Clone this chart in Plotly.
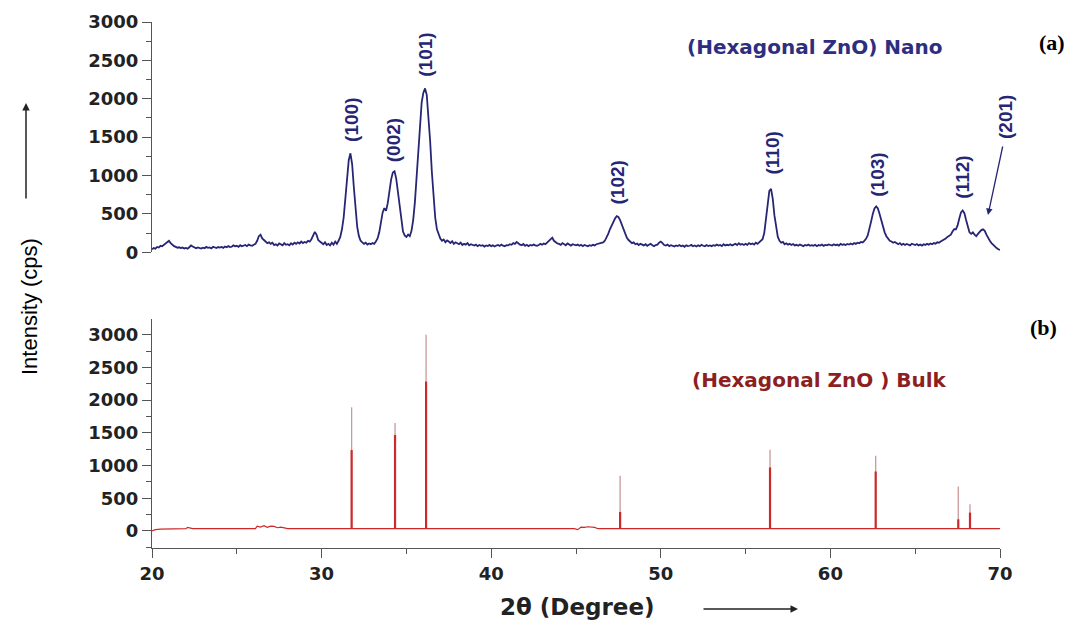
import numpy as np
import plotly.graph_objects as go

# ---------------- data ----------------
# Nano ZnO pattern, intensity read every 0.1 deg from 20.0 to 70.0
nano_start = 20.0
nano_step = 0.1
nano_y = [
    40, 55, 48, 70, 62, 85, 78, 95, 110, 130,            # 20
    150, 120, 95, 80, 70, 60, 65, 55, 62, 50,            # 21
    58, 48, 66, 90, 75, 60, 52, 64, 55, 48,              # 22
    60, 52, 70, 58, 64, 50, 72, 60, 55, 68,              # 23
    62, 70, 58, 75, 66, 80, 68, 72, 90, 78,              # 24
    85, 70, 92, 78, 88, 95, 80, 100, 90, 85,             # 25
    98, 110, 150, 210, 230, 180, 160, 140, 120, 130,     # 26
    110, 125, 95, 105, 88, 115, 100, 92, 120, 98,        # 27
    105, 90, 118, 100, 125, 110, 130, 115, 140, 120,     # 28
    135, 125, 150, 140, 170, 210, 265, 230, 160, 140,    # 29
    120, 105, 130, 95, 110, 90, 125, 100, 140, 110,      # 30
    150, 200, 300, 450, 700, 980, 1200, 1290, 1150, 850, # 31
    550, 330, 210, 150, 130, 110, 125, 100, 115, 105,    # 32
    120, 110, 140, 180, 260, 400, 520, 575, 540, 640,    # 33
    800, 950, 1040, 1055, 960, 780, 560, 380, 270, 220,  # 34
    200, 230, 210, 280, 420, 650, 950, 1300, 1650, 1950, # 35
    2080, 2135, 2050, 1800, 1450, 1050, 700, 450, 300, 230,  # 36
    180, 150, 165, 130, 155, 140, 120, 145, 110, 130,    # 37
    115, 105, 125, 95, 110, 100, 120, 90, 105, 98,       # 38
    88, 100, 80, 95, 85, 92, 75, 90, 82, 96,             # 39
    80, 92, 76, 88, 95, 82, 100, 86, 78, 94,             # 40
    90, 105, 98, 120, 110, 135, 115, 100, 92, 108,       # 41
    85, 98, 80, 95, 88, 102, 90, 84, 96, 110,            # 42
    98, 115, 105, 125, 140, 170, 190, 150, 130, 115,     # 43
    110, 98, 120, 105, 92, 115, 100, 88, 105, 95,        # 44
    90, 100, 85, 98, 80, 95, 88, 78, 92, 85,             # 45
    98, 90, 105, 110, 115, 120, 130, 150, 190, 240,      # 46
    300, 350, 400, 440, 470, 460, 420, 360, 290, 230,    # 47
    190, 160, 140, 120, 130, 105, 115, 95, 110, 100,     # 48
    90, 105, 85, 98, 110, 92, 80, 95, 100, 125,          # 49
    140, 120, 95, 88, 100, 80, 92, 85, 75, 90,           # 50
    82, 95, 78, 88, 72, 90, 80, 85, 96, 78,              # 51
    88, 75, 92, 80, 98, 85, 78, 95, 82, 90,              # 52
    80, 92, 85, 100, 88, 95, 82, 105, 90, 98,            # 53
    92, 105, 88, 100, 110, 95, 118, 100, 108, 95,        # 54
    110, 98, 120, 105, 115, 100, 125, 110, 130, 140,     # 55
    170, 250, 420, 650, 800, 825, 700, 480, 300, 200,    # 56
    150, 125, 135, 105, 118, 100, 112, 95, 108, 90,      # 57
    98, 85, 102, 90, 80, 95, 88, 100, 84, 92,            # 58
    86, 98, 80, 94, 88, 100, 84, 96, 90, 102,            # 59
    95, 88, 105, 92, 100, 86, 110, 98, 104, 95,          # 60
    108, 100, 115, 102, 120, 110, 125, 118, 135, 128,    # 61
    150, 175, 220, 300, 400, 500, 570, 598, 570, 500,    # 62
    410, 330, 260, 210, 175, 150, 140, 125, 135, 115,    # 63
    105, 120, 98, 110, 95, 108, 100, 90, 112, 98,        # 64
    95, 108, 90, 102, 88, 105, 96, 110, 100, 115,        # 65
    105, 120, 112, 130, 125, 140, 150, 165, 180, 200,    # 66
    210, 230, 270, 300, 300, 350, 440, 520, 545, 510,    # 67
    420, 330, 260, 240, 260, 230, 210, 240, 270, 290,    # 68
    300, 280, 230, 180, 150, 120, 95, 70, 55, 40,        # 69
    30,                                                  # 70
]

# Bulk ZnO reference pattern: background and stick peaks
bulk_base_x = [20.0, 20.2, 20.5, 21.0, 22.0, 22.1, 22.2, 22.4, 26.1, 26.2, 26.4, 26.6, 26.8,
               27.0, 27.2, 27.4, 27.6, 27.8, 28.0, 44.9, 45.1, 45.3, 45.5, 45.7, 45.9, 46.1,
               46.3, 70.0]
bulk_base_y = [0, 20, 30, 35, 35, 55, 45, 35, 35, 75, 60, 80, 55, 75, 70, 50, 60, 45, 35,
               35, 20, 60, 55, 65, 60, 55, 35, 35]

bulk_peaks = [31.77, 34.33, 36.16, 47.60, 56.44, 62.67, 67.54, 68.23]
bulk_light = [1890, 1651, 3000, 843, 1242, 1150, 680, 409]
bulk_dark = [1237, 1467, 2284, 291, 971, 909, 179, 281]
bulk_floor = 35

# Miller-index labels: label, x position (deg), label height (cps)
hkl_labels = ["(100)", "(002)", "(101)", "(102)", "(110)", "(103)", "(112)"]
hkl_x = [31.77, 34.26, 36.15, 47.42, 56.56, 62.76, 67.77]
hkl_y = [1720, 1458, 2572, 910, 1288, 1013, 974]

x_ticks = [20, 30, 40, 50, 60, 70]
y_ticks = [0, 500, 1000, 1500, 2000, 2500, 3000]

# ---------------- figure ----------------
NAVY = "#262675"
RED = "#cc2a2a"
LIGHT = "#c89a9a"
DARKRED = "#8e1f1f"

nano_x = [nano_start + i * nano_step for i in range(len(nano_y))]

fig = go.Figure()

fig.add_trace(go.Scatter(x=nano_x, y=nano_y, mode="lines",
                         line=dict(color=NAVY, width=1.8),
                         xaxis="x", yaxis="y", showlegend=False))

# light (upper) stick parts
lx, ly = [], []
for p, h in zip(bulk_peaks, bulk_light):
    lx += [p, p, None]
    ly += [bulk_floor, h, None]
fig.add_trace(go.Scatter(x=lx, y=ly, mode="lines", line=dict(color=LIGHT, width=1.3),
                         xaxis="x2", yaxis="y2", showlegend=False))
# dark (lower) stick parts
dx, dy = [], []
for p, h in zip(bulk_peaks, bulk_dark):
    dx += [p, p, None]
    dy += [bulk_floor, h, None]
fig.add_trace(go.Scatter(x=dx, y=dy, mode="lines", line=dict(color=RED, width=2.2),
                         xaxis="x2", yaxis="y2", showlegend=False))
# background
fig.add_trace(go.Scatter(x=bulk_base_x, y=bulk_base_y, mode="lines",
                         line=dict(color=RED, width=1.2),
                         xaxis="x2", yaxis="y2", showlegend=False))

tickfont = dict(family="DejaVu Sans", size=18, color="#222222", weight="bold")
axis_common = dict(showgrid=False, zeroline=False, showline=True, linecolor="#555555",
                   linewidth=1.2, ticks="outside", tickcolor="#555555", tickwidth=1.2)

# the page adds an 8 px body margin, so the figure is drawn 8 px smaller
OFF = 8
W, H = 1073 - OFF, 620 - OFF
L, R, T, B = 152 - OFF, 73, 22 - OFF, 72
PW, PH = W - L - R, H - T - B


def px(xp):  # reference-screen x pixel -> paper fraction
    return (xp - OFF - L) / PW


def py(yp):  # reference-screen y pixel -> paper fraction
    return (H - B - (yp - OFF)) / PH


fig.update_layout(
    width=W, height=H,
    margin=dict(l=L, r=R, t=T, b=B, autoexpand=False),
    plot_bgcolor="white", paper_bgcolor="white",
    showlegend=False,
    xaxis=dict(domain=[0, 1], range=[20, 70], anchor="y", visible=False),
    yaxis=dict(domain=[py(252.3), 1.0], range=[0, 3000], anchor="x",
               tickvals=y_ticks, ticklen=9, tickfont=tickfont,
               minor=dict(dtick=250, ticklen=5, ticks="outside", tickcolor="#555555"),
               **axis_common),
    xaxis2=dict(domain=[0, 1], range=[20, 70], anchor="y2",
                tickvals=x_ticks, ticklen=9, tickfont=tickfont,
                minor=dict(dtick=5, ticklen=5, ticks="outside", tickcolor="#555555"),
                **axis_common),
    yaxis2=dict(domain=[0, py(319)], range=[-260, 3240], anchor="x2",
                tickvals=y_ticks, ticklen=9, tickfont=tickfont,
                minor=dict(tickvals=[-250, 250, 750, 1250, 1750, 2250, 2750, 3250],
                           ticklen=5, ticks="outside", tickcolor="#555555"),
                **axis_common),
)

lab_font = dict(family="Liberation Sans", size=19, color=NAVY, weight="bold")
ann = []
for lab, xv, yv in zip(hkl_labels, hkl_x, hkl_y):
    ann.append(dict(x=xv, y=yv, xref="x", yref="y", text=lab, textangle=-90,
                    xanchor="center", yanchor="middle", showarrow=False, font=lab_font))
# (201) label sits past the axis end, with an arrow down to the peak
ann.append(dict(x=px(1005), y=py(117), xref="paper", yref="paper", text="(201)",
                textangle=-90, xanchor="center", yanchor="middle", showarrow=False,
                font=lab_font))
ann.append(dict(x=px(988), y=py(215), xref="paper", yref="paper", ax=15, ay=-70,
                text="", showarrow=True, arrowhead=2, arrowsize=1, arrowwidth=1.3,
                arrowcolor=NAVY))

C = dict(xref="paper", yref="paper", xanchor="center", yanchor="middle", showarrow=False)
ann += [
    dict(x=px(815), y=py(47), text="<b>(Hexagonal ZnO) Nano</b>",
         font=dict(family="DejaVu Sans", size=20, color="#2e2e80"), **C),
    dict(x=px(819), y=py(380), text="<b>(Hexagonal ZnO ) Bulk</b>",
         font=dict(family="DejaVu Sans", size=20, color=DARKRED), **C),
    dict(x=px(1052), y=py(42), text="<b>(a)</b>",
         font=dict(family="Liberation Serif", size=22, color="black"), **C),
    dict(x=px(1043), y=py(327), text="<b>(b)</b>",
         font=dict(family="Liberation Serif", size=22, color="black"), **C),
    dict(x=px(29), y=py(306), text="Intensity (cps)", textangle=-90,
         font=dict(family="Liberation Sans", size=22, color="black"), **C),
    dict(x=px(577), y=py(607), text="<b>2θ (Degree)</b>",
         font=dict(family="DejaVu Sans", size=23, color="#222222"), **C),
]
ann += [
    dict(x=px(26), y=py(103), xref="paper", yref="paper", ax=0, ay=97,
         text="", showarrow=True, arrowhead=2, arrowsize=1,
         arrowwidth=1.5, arrowcolor="#222222"),
    dict(x=px(798), y=py(609), xref="paper", yref="paper", ax=-96, ay=0,
         text="", showarrow=True, arrowhead=2, arrowsize=1,
         arrowwidth=1.5, arrowcolor="#222222"),
]
fig.update_layout(annotations=ann)

fig.write_html("out.html")
